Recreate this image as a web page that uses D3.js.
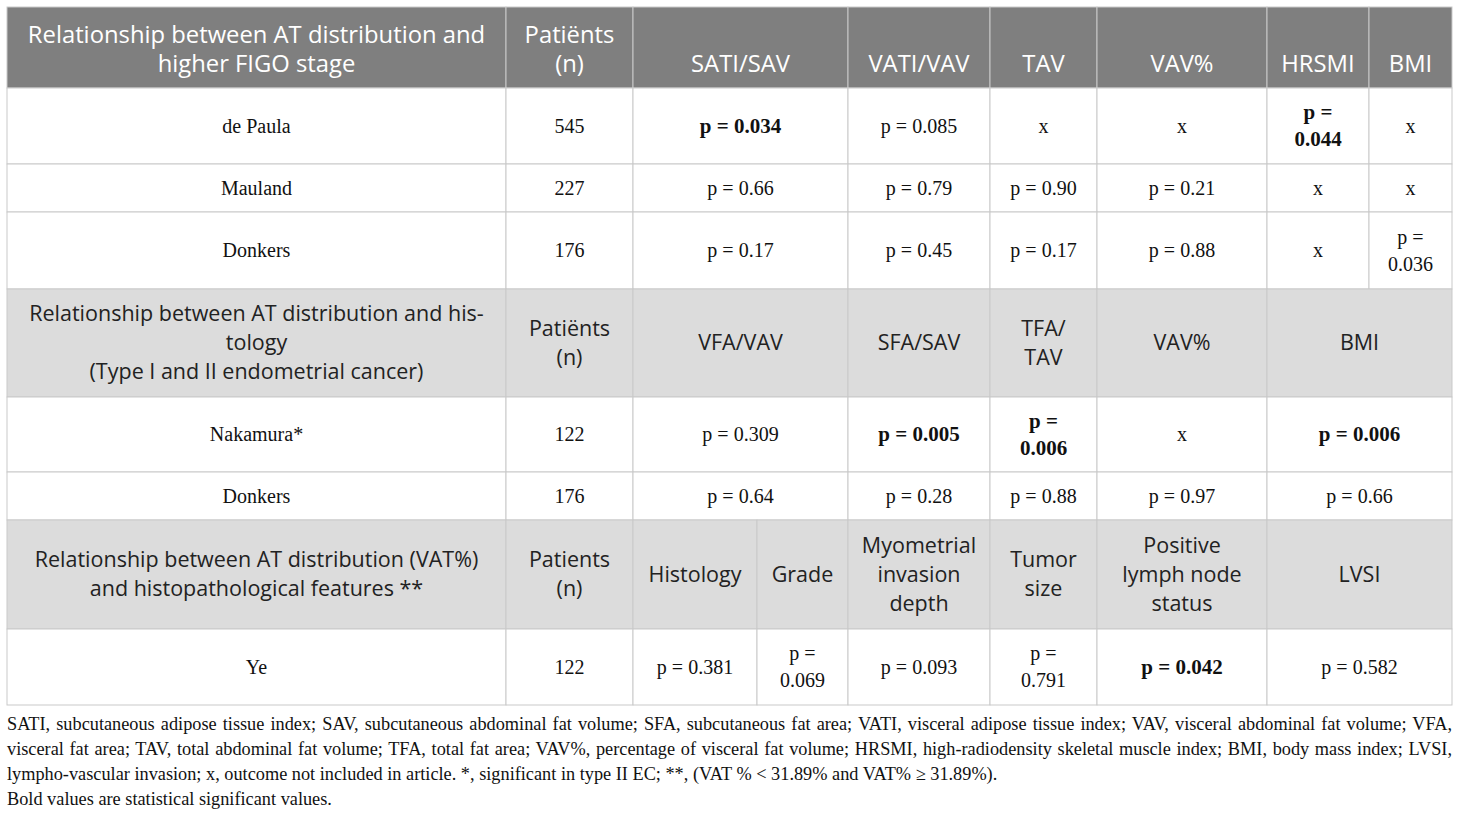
<!DOCTYPE html>
<html><head><meta charset="utf-8">
<script src="https://cdn.jsdelivr.net/npm/d3@7/dist/d3.min.js"></script>
<style>
html,body{margin:0;padding:0;background:#fff;}
svg{display:block;}
</style></head>
<body><svg id="chart" width="1460" height="816"></svg>
<script>
// ---------- DATA ----------
const header1 = ["Relationship between AT distribution and\nhigher FIGO stage", "Patiënts\n(n)", "SATI/SAV", "VATI/VAV", "TAV", "VAV%", "HRSMI", "BMI"];
const studies1 = ["de Paula", "Mauland", "Donkers"];
const patients1 = ["545", "227", "176"];
const values1 = [
  ["p = 0.034", "p = 0.085", "x", "x", "p =\n0.044", "x"],
  ["p = 0.66", "p = 0.79", "p = 0.90", "p = 0.21", "x", "x"],
  ["p = 0.17", "p = 0.45", "p = 0.17", "p = 0.88", "x", "p =\n0.036"]
];
const bold1 = [
  [true, false, false, false, true, false],
  [false, false, false, false, false, false],
  [false, false, false, false, false, false]
];
const header2 = ["Relationship between AT distribution and his-\ntology\n(Type I and II endometrial cancer)", "Patiënts\n(n)", "VFA/VAV", "SFA/SAV", "TFA/\nTAV", "VAV%", "BMI"];
const studies2 = ["Nakamura*", "Donkers"];
const patients2 = ["122", "176"];
const values2 = [
  ["p = 0.309", "p = 0.005", "p =\n0.006", "x", "p = 0.006"],
  ["p = 0.64", "p = 0.28", "p = 0.88", "p = 0.97", "p = 0.66"]
];
const bold2 = [
  [false, true, true, false, true],
  [false, false, false, false, false]
];
const header3 = ["Relationship between AT distribution (VAT%)\nand histopathological features **", "Patients\n(n)", "Histology", "Grade", "Myometrial\ninvasion\ndepth", "Tumor\nsize", "Positive\nlymph node\nstatus", "LVSI"];
const studies3 = ["Ye"];
const patients3 = ["122"];
const values3 = [
  ["p = 0.381", "p =\n0.069", "p = 0.093", "p =\n0.791", "p = 0.042", "p = 0.582"]
];
const bold3 = [
  [false, false, false, false, true, false]
];
const footnotes = [
  "SATI, subcutaneous adipose tissue index; SAV, subcutaneous abdominal fat volume; SFA, subcutaneous fat area; VATI, visceral adipose tissue index; VAV, visceral abdominal fat volume; VFA,",
  "visceral fat area; TAV, total abdominal fat volume; TFA, total fat area; VAV%, percentage of visceral fat volume; HRSMI, high-radiodensity skeletal muscle index; BMI, body mass index; LVSI,",
  "lympho-vascular invasion; x, outcome not included in article. *, significant in type II EC; **, (VAT % < 31.89% and VAT% ≥ 31.89%).",
  "Bold values are statistical significant values."
];

// ---------- LAYOUT ----------
const colEdges = [7, 506, 633, 757, 848, 990, 1097, 1267, 1369, 1452];
const rowEdges = [7, 88, 164, 212, 289, 397, 472, 520, 629, 705];
const spans1 = [[0,1],[1,2],[2,4],[4,5],[5,6],[6,7],[7,8],[8,9]];
const spans2 = [[0,1],[1,2],[2,4],[4,5],[5,6],[6,7],[7,9]];
const spans3 = [[0,1],[1,2],[2,3],[3,4],[4,5],[5,6],[6,7],[7,9]];

const headFont = "'Open Sans', 'Noto Sans', sans-serif";
const bodyFont = "'Liberation Serif', 'Times New Roman', serif";
const darkSize = 23.8, lightSize = 21.5, bodySize = 20, boldSize = 21, footSize = 18.3;
const headLH = 29, bodyLH = 27;
const darkBg = "#7f7f7f", lightBg = "#dcdcdc", gridC = "#c9c9c9";

const svg = d3.select("#chart");
const xPos = d3.scaleOrdinal().domain(d3.range(colEdges.length)).range(colEdges);
const y = d3.scaleOrdinal().domain(d3.range(rowEdges.length)).range(rowEdges);

const cells = [];
function addRow(r, spans, texts, kind, bolds) {
  spans.forEach((s, i) => {
    cells.push({
      x0: xPos(s[0]), x1: xPos(s[1]), y0: y(r), y1: y(r + 1),
      text: texts[i], kind: kind, bold: bolds ? bolds[i] : false
    });
  });
}
addRow(0, spans1, header1, "dark");
studies1.forEach((st, k) => addRow(1 + k, spans1, [st, patients1[k]].concat(values1[k]), "body", [false, false].concat(bold1[k])));
addRow(4, spans2, header2, "light");
studies2.forEach((st, k) => addRow(5 + k, spans2, [st, patients2[k]].concat(values2[k]), "body", [false, false].concat(bold2[k])));
addRow(7, spans3, header3, "light");
studies3.forEach((st, k) => addRow(8 + k, spans3, [st, patients3[k]].concat(values3[k]), "body", [false, false].concat(bold3[k])));

const g = svg.append("g");
const cg = g.selectAll("g.cell").data(cells).join("g").attr("class", "cell");
cg.append("rect")
  .attr("x", d => d.x0).attr("y", d => d.y0)
  .attr("width", d => d.x1 - d.x0).attr("height", d => d.y1 - d.y0)
  .attr("fill", d => d.kind === "dark" ? darkBg : d.kind === "light" ? lightBg : "#fff")
  .attr("stroke", gridC).attr("stroke-width", 1);

cg.each(function(d) {
  const lines = d.text.split("\n");
  const isHead = d.kind !== "body";
  const lh = isHead ? headLH : bodyLH;
  const cx = (d.x0 + d.x1) / 2;
  let centers;
  if (d.kind === "dark") {
    const last = d.y1 - 24;
    centers = lines.map((l, i) => last - (lines.length - 1 - i) * lh);
  } else {
    const mid = (d.y0 + d.y1) / 2 - 0.5;
    centers = lines.map((l, i) => mid + (i - (lines.length - 1) / 2) * lh);
  }
  const size = d.kind === "dark" ? darkSize : d.kind === "light" ? lightSize : (d.bold ? boldSize : bodySize);
  const t = d3.select(this).append("text")
    .attr("text-anchor", "middle")
    .attr("font-family", isHead ? headFont : bodyFont)
    .attr("font-size", size)
    .attr("font-weight", d.bold ? "bold" : "normal")
    .attr("fill", d.kind === "dark" ? "#fff" : d.kind === "light" ? "#222" : "#111");
  lines.forEach((l, i) => {
    t.append("tspan").attr("x", cx).attr("y", centers[i]).attr("dy", "0.35em").text(l);
  });
});

// Footnotes
const footTop = 724, footLH = 24.7, footLeft = 7, footRight = 1452;
const fg = svg.append("g");
footnotes.forEach((line, i) => {
  const t = fg.append("text")
    .attr("x", footLeft).attr("y", footTop + i * footLH).attr("dy", "0.35em")
    .attr("font-family", bodyFont).attr("font-size", footSize).attr("fill", "#111")
    .text(line);
  if (i < 2) {
    const nat = t.node().getComputedTextLength();
    const spaces = (line.match(/ /g) || []).length;
    const ws = (footRight - footLeft - nat) / spaces;
    t.attr("word-spacing", ws);
  }
});
</script>
</body></html>
